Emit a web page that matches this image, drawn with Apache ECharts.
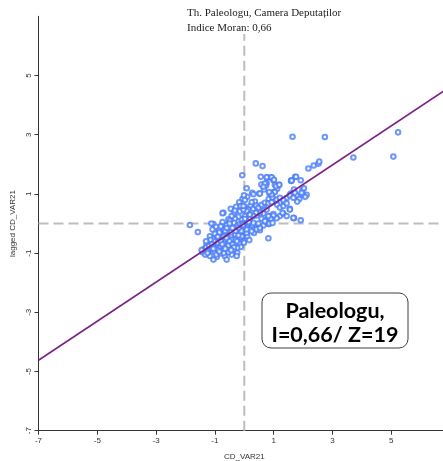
<!DOCTYPE html>
<html><head><meta charset="utf-8">
<script src="https://cdn.jsdelivr.net/npm/echarts@6/dist/echarts.min.js"></script>
<style>html,body{margin:0;padding:0;background:#fff}#c{width:443px;height:461px}</style>
</head><body><div id="c"></div>
<script>
// Scatter points: [CD_VAR21, lagged CD_VAR21]
const pointsX = [1.64,0.39,0.62,-0.07,2.18,2.36,2.52,0.56,0.78,0.92,0.99,0.76,0.58,1.04,1.18,1.59,1.73,1.12,1.01,0.86,0.74,0.67,0.51,0.27,0.08,0.36,0.10,-0.06,-0.17,-0.28,-0.46,-0.35,-0.15,0.02,0.14,0.22,0.31,0.44,0.53,0.65,0.76,0.83,0.96,1.08,1.12,1.21,1.35,1.44,1.58,1.69,1.78,1.87,1.98,2.12,2.03,1.80,1.55,1.33,1.44,1.21,1.10,1.69,1.92,0.87,0.78,0.83,0.99,0.65,0.42,0.19,0.02,-0.09,-0.20,-0.32,-0.43,-0.54,-0.71,-0.60,-0.49,-0.35,-0.24,-0.15,-0.01,0.10,0.19,0.26,0.33,0.42,0.53,0.65,0.76,0.82,0.53,-0.74,-1.05,-1.12,-1.85,-1.58,-0.87,-0.71,-0.83,-0.66,-0.54,-0.44,-0.31,-0.15,-0.03,0.10,0.17,-0.03,-0.17,-0.31,-0.42,-0.54,-0.66,-0.78,-0.94,-1.05,-1.17,-1.28,-1.37,-1.42,-1.33,-1.22,-1.11,-1.03,-0.92,-0.83,-0.71,-0.60,-0.49,-0.37,-0.24,-0.12,-0.26,-0.43,-0.54,-0.66,-0.80,-0.94,-1.05,-1.17,-1.26,-1.01,-0.90,-0.74,-0.60,-0.15,-0.24,0.08,-0.06,-1.08,-0.96,-1.17,-0.87,0.06,
2.74,5.23,5.07,3.71,2.55,
0.70,0.65,1.08,1.19,1.61,1.92,1.04,0.93,0.85,0.53,0.31,-0.01,0.02,0.25,0.40,0.48,0.59,0.70,0.82,0.93,1.10,1.21,1.33,1.55,1.67,1.99,2.07,1.95,1.72,1.55,1.67,1.30,0.99,0.90,0.82,0.53,0.40,0.31,0.19,0.08,-0.03,-0.12,0.19,0.31,0.42,0.53,0.25,0.08,-0.03,-0.09,-0.01,0.59,0.70,0.85,0.96,0.48,0.14,0.02,1.33,1.44,0.76,0.93,1.01,1.76,1.61,-0.74,-0.32,-0.03,
-1.30,-1.20,-1.00,-0.90,-0.80,-0.70,-0.60,-0.50,-0.40,-0.30,-0.20,-0.10,-0.45,-0.65,-0.85,-1.00,-1.15,-1.25,-0.95,-0.70,-0.35,-0.55,-0.75,-1.10,-0.20,-0.30,-0.05,0.15,-0.50,-0.80,-0.60,-0.40,-0.90,-1.30,-1.45,-0.25,-0.45,-0.85,-0.65,-1.05];
const pointsY = [2.93,2.03,1.94,1.63,1.86,1.96,2.02,1.58,1.55,1.55,1.46,1.37,1.32,1.31,1.31,1.44,1.58,1.17,1.06,1.01,1.28,1.15,1.01,1.04,1.19,0.74,0.90,0.83,0.72,0.56,0.50,0.36,0.41,0.56,0.47,0.61,0.50,0.56,0.45,0.59,0.47,0.83,0.88,0.77,0.63,0.54,0.72,0.86,1.01,1.15,0.95,0.83,1.13,0.97,1.19,0.74,0.50,0.34,0.25,0.25,0.18,0.18,0.11,0.25,0.14,-0.02,0.32,0.34,0.27,0.29,0.25,0.14,0.23,0.16,0.25,0.14,0.36,-0.05,0.09,0.02,-0.09,-0.02,-0.16,-0.09,-0.20,-0.05,-0.32,-0.16,-0.11,-0.07,0.07,-0.50,-0.23,0.05,-0.02,0.00,-0.05,-0.29,-0.20,-0.20,-0.34,-0.37,-0.26,-0.41,-0.37,-0.32,-0.43,-0.43,-0.56,-0.61,-0.68,-0.68,-0.54,-0.65,-0.54,-0.48,-0.43,-0.52,-0.63,-0.72,-0.86,-0.97,-1.05,-0.95,-0.86,-0.72,-0.70,-0.82,-0.77,-0.88,-0.83,-0.90,-0.99,-0.79,-1.10,-1.05,-0.97,-1.10,-1.01,-1.13,-1.22,-1.10,-0.90,-0.95,-0.90,-0.92,-1.22,-0.48,-0.82,-0.32,0.00,-0.20,-0.11,-0.43,-0.56,0.14,
2.92,3.08,2.26,2.23,2.09,
1.35,1.24,1.26,1.31,1.46,1.46,1.06,0.98,1.06,1.01,0.99,0.95,0.79,0.72,0.61,0.53,0.63,0.70,0.68,0.72,0.81,0.87,0.79,0.95,0.87,0.97,0.90,1.04,1.04,0.47,0.19,0.36,0.27,0.16,0.25,0.36,0.36,0.25,0.30,0.42,0.47,0.59,0.14,0.02,-0.20,-0.15,-0.26,-0.20,-0.09,-0.43,-0.65,0.16,0.08,0.00,0.02,0.00,0.00,0.16,0.59,0.68,1.56,1.56,1.48,1.58,1.45,0.35,0.44,0.59,
-0.80,-0.75,-0.60,-0.65,-0.60,-0.45,-0.50,-0.60,-0.70,-0.55,-0.40,-0.25,-0.30,-0.25,-0.30,-0.35,-0.55,-1.00,-1.05,-1.00,-0.80,-0.75,-0.70,-0.70,-0.15,-0.25,-0.05,0.05,0.00,-0.10,-0.15,-0.15,-0.45,-0.60,-0.90,-0.60,-0.90,-0.95,-0.85,-0.85];
// Regression line (slope = Moran's I 0.66)
const regX = [-7, 7];
const regY = [-4.62, 4.62];
// Reference (mean) lines
const vLineX = [0, 0], vLineY = [-7, 6.4];
const hLineX = [-7, 7], hLineY = [0, 0];
const titleLines = ["Th. Paleologu, Camera Deputaților", "Indice Moran: 0,66"];
const boxLines = ["Paleologu,", "I=0,66/ Z=19"];
const xName = "CD_VAR21", yName = "lagged CD_VAR21";

const pts = pointsX.map((x,i)=>[x, pointsY[i]]);
const chart = echarts.init(document.getElementById('c'), null, {renderer:'canvas'});
const axisCommon = {
  type:'value', min:-7, max:7, interval:2,
  splitLine:{show:false},
  axisLine:{show:true, onZero:false, lineStyle:{color:'#333', width:1}},
  axisTick:{show:true, inside:false, length:4, lineStyle:{color:'#333'}},
  nameTextStyle:{fontFamily:'Liberation Sans', fontSize:8, color:'#333'}
};
chart.setOption({
  animation:false,
  backgroundColor:'#fff',
  title:{
    text: titleLines.join('\n'), left:187, top:6, padding:0,
    textStyle:{fontFamily:'Liberation Serif', fontSize:11, fontWeight:'normal', color:'#222', lineHeight:15}
  },
  grid:{left:38.5, top:16.3, width:411.6, height:414.4, containLabel:false, outerBoundsMode:'none'},
  xAxis: Object.assign({}, axisCommon, {
    name:xName, nameLocation:'middle', nameGap:22,
    axisLabel:{fontFamily:'Liberation Sans', fontSize:8, color:'#333', margin:6, showMaxLabel:false}
  }),
  yAxis: Object.assign({}, axisCommon, {
    name:yName, nameLocation:'middle', nameGap:21, nameRotate:90,
    axisLabel:{fontFamily:'Liberation Sans', fontSize:8, color:'#333', rotate:90, margin:6, showMaxLabel:false}
  }),
  series:[
    {type:'line', data:hLineX.map((x,i)=>[x,hLineY[i]]), symbol:'none', silent:true,
     lineStyle:{color:'#bdbdbd', width:2, type:[10,5]}, z:1},
    {type:'line', data:vLineX.map((x,i)=>[x,vLineY[i]]), symbol:'none', silent:true,
     lineStyle:{color:'#bdbdbd', width:2, type:[10,5]}, z:1},
    {type:'scatter', data:pts, symbol:'emptyCircle', symbolSize:4.6,
     itemStyle:{color:'#4a7df7', borderColor:'#4a7df7', borderWidth:0.75}, z:3},
    {type:'line', data:regX.map((x,i)=>[x,regY[i]]), symbol:'none',
     lineStyle:{color:'#7a2386', width:1.6}, z:4}
  ],
  graphic:[
    {type:'rect', shape:{x:262, y:293, width:146, height:55, r:9},
     style:{fill:'#fff', stroke:'#404040', lineWidth:1}, z:10},
    {type:'text', x:335, y:323, z:11,
     style:{text:boxLines.join('\n'), align:'center', verticalAlign:'middle',
            fontFamily:'Lato', fontWeight:'bold', fontSize:21.5, fill:'#000', lineHeight:24}}
  ]
});
</script></body></html>
